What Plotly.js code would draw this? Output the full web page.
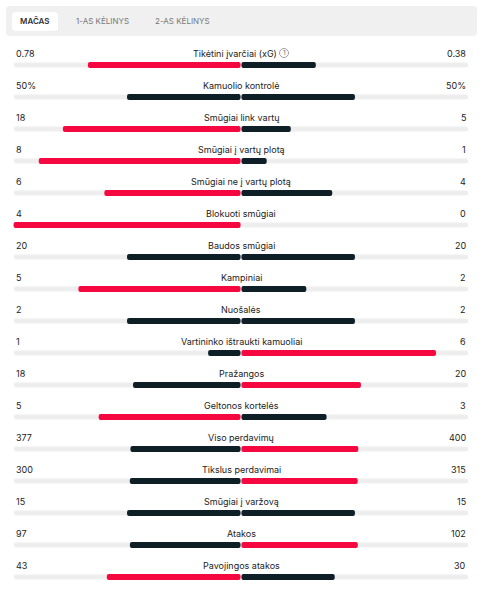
<!DOCTYPE html>
<html>
<head>
<meta charset="utf-8">
<script src="https://cdn.plot.ly/plotly-3.0.1.min.js"></script>
<style>html,body{margin:0;padding:0;background:#fff;}#chart{width:483px;height:590px;}</style>
</head>
<body>
<div id="chart"></div>
<script>
const tabs = ["MAČAS", "1-AS KĖLINYS", "2-AS KĖLINYS"];
const labels = ["Tikėtini įvarčiai (xG)", "Kamuolio kontrolė", "Smūgiai link vartų", "Smūgiai į vartų plotą", "Smūgiai ne į vartų plotą", "Blokuoti smūgiai", "Baudos smūgiai", "Kampiniai", "Nuošalės", "Vartininko ištraukti kamuoliai", "Pražangos", "Geltonos kortelės", "Viso perdavimų", "Tikslus perdavimai", "Smūgiai į varžovą", "Atakos", "Pavojingos atakos"];
const leftVals = [0.78, 50, 18, 8, 6, 4, 20, 5, 2, 1, 18, 5, 377, 300, 15, 97, 43];
const rightVals = [0.38, 50, 5, 1, 4, 0, 20, 2, 2, 6, 20, 3, 400, 315, 15, 102, 30];
const leftText = ["0.78", "50%", "18", "8", "6", "4", "20", "5", "2", "1", "18", "5", "377", "300", "15", "97", "43"];
const rightText = ["0.38", "50%", "5", "1", "4", "0", "20", "2", "2", "6", "20", "3", "400", "315", "15", "102", "30"];

const W = 483, H = 590;
const RED = "#f5073f", DARK = "#0f1f27", TRACK = "#eeeeee";
const rows = labels.map((_, i) => i);
const lShare = leftVals.map((v, i) => v / (v + rightVals[i]));
const rShare = rightVals.map((v, i) => v / (leftVals[i] + v));
const lColor = leftVals.map((v, i) => v > rightVals[i] ? RED : DARK);
const rColor = rightVals.map((v, i) => v > leftVals[i] ? RED : DARK);

const px = p => p / W;
const py = p => 1 - p / H;
function rrect(x0, y0, x1, y1, r) {
  const P = (x, y) => px(x) + "," + py(y);
  return "M" + P(x0 + r, y0) + " L" + P(x1 - r, y0) + " Q" + P(x1, y0) + " " + P(x1, y0 + r) +
    " L" + P(x1, y1 - r) + " Q" + P(x1, y1) + " " + P(x1 - r, y1) +
    " L" + P(x0 + r, y1) + " Q" + P(x0, y1) + " " + P(x0, y1 - r) +
    " L" + P(x0, y0 + r) + " Q" + P(x0, y0) + " " + P(x0 + r, y0) + " Z";
}

const traces = [
  {type: "bar", orientation: "h", y: rows, x: rows.map(() => 2), base: rows.map(() => -1),
   width: 0.16, marker: {color: TRACK, cornerradius: 2}, hoverinfo: "skip"},
  {type: "bar", orientation: "h", y: rows, x: lShare.map(s => -s), base: rows.map(() => -0.002),
   width: 0.19, marker: {color: lColor, cornerradius: 2}, hoverinfo: "skip"},
  {type: "bar", orientation: "h", y: rows, x: rShare, base: rows.map(() => 0.002),
   width: 0.19, marker: {color: rColor, cornerradius: 2}, hoverinfo: "skip"}
];

const xl = -1 - 14 * 2 / 454, xr = 1 + 15 * 2 / 454;
const ytop = -65 / 32, ybot = ytop + H / 32;

const ann = [];
const fam = "Inter, 'Noto Sans', sans-serif";
rows.forEach(i => {
  const yy = i - 0.375;
  ann.push({xref: "paper", yref: "y", x: px(14), y: yy, xanchor: "left", yanchor: "middle", text: leftText[i], showarrow: false, font: {family: fam, size: 9, color: "#222"}});
  ann.push({xref: "paper", yref: "y", x: px(468), y: yy, xanchor: "right", yanchor: "middle", text: rightText[i], showarrow: false, font: {family: fam, size: 9, color: "#222"}});
  ann.push({xref: "paper", yref: "y", x: px(i === 0 ? 235 : 241), y: yy, xanchor: "center", yanchor: "middle", text: labels[i], showarrow: false, font: {family: fam, size: 9, color: "#222"}});
});
// info icon next to xG
ann.push({xref: "paper", yref: "paper", x: px(284), y: py(53), xanchor: "center", yanchor: "middle", text: "1", showarrow: false, font: {family: fam, size: 6.5, color: "#666"}});
// tabs
const tabX = [35, 102, 182];
tabs.forEach((t, k) => {
  ann.push({xref: "paper", yref: "paper", x: px(tabX[k]), y: py(21), xanchor: "center", yanchor: "middle", text: t, showarrow: false,
    font: {family: fam, size: 8, color: k === 0 ? "#333" : "#777", weight: k === 0 ? 600 : 400}});
});

const shapes = [
  {type: "path", xref: "paper", yref: "paper", path: rrect(6, 6, 477, 36, 4), fillcolor: "#f0f0f0", line: {width: 0}, layer: "below"},
  {type: "path", xref: "paper", yref: "paper", path: rrect(12, 12, 58, 31, 4), fillcolor: "#ffffff", line: {width: 0}, layer: "below"},
  {type: "circle", xref: "paper", yref: "paper", x0: px(279.5), x1: px(288.5), y0: py(57.5), y1: py(48.5), line: {color: "#888", width: 0.8}, fillcolor: "rgba(0,0,0,0)"}
];

const layout = {
  width: W, height: H, margin: {l: 0, r: 0, t: 0, b: 0},
  paper_bgcolor: "#fff", plot_bgcolor: "#fff",
  barmode: "overlay", showlegend: false,
  xaxis: {range: [xl, xr], visible: false, fixedrange: true},
  yaxis: {range: [ybot, ytop], visible: false, fixedrange: true},
  annotations: ann, shapes: shapes
};
Plotly.newPlot("chart", traces, layout, {staticPlot: true, displayModeBar: false});
</script>
</body>
</html>
